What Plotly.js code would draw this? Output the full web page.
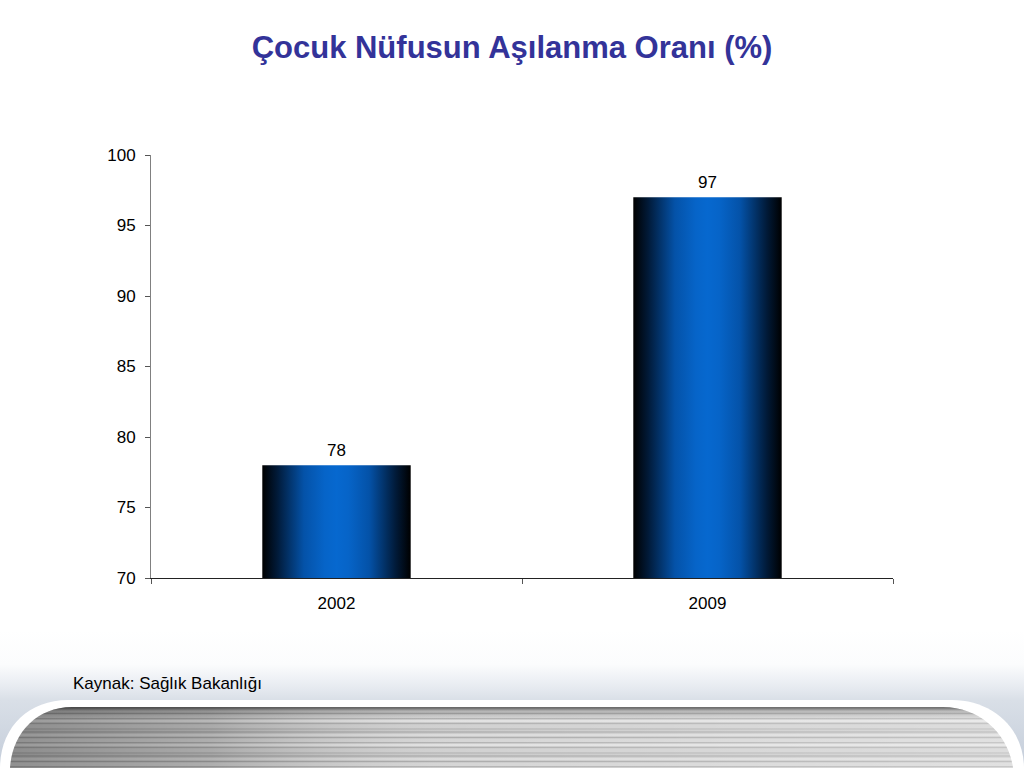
<!DOCTYPE html>
<html>
<head>
<meta charset="utf-8">
<script src="https://cdn.plot.ly/plotly-3.0.1.min.js"></script>
<style>
  html, body { margin:0; padding:0; background:#ffffff; }
  #wrap { position:relative; width:1024px; height:768px; overflow:hidden; }
  #deco { position:absolute; left:0; top:0; z-index:0; }
  #chart { position:absolute; left:0; top:0; width:1024px; height:768px; z-index:1; }
</style>
</head>
<body>
<div id="wrap">
<svg id="deco" width="1024" height="768" xmlns="http://www.w3.org/2000/svg">
  <defs>
    <linearGradient id="glow" x1="0" y1="0" x2="0" y2="1">
      <stop offset="0" stop-color="#ffffff"/>
      <stop offset="0.25" stop-color="#fbfcfd"/>
      <stop offset="0.42" stop-color="#e6eaf0"/>
      <stop offset="0.51" stop-color="#d9dfe7"/>
      <stop offset="1" stop-color="#c4cdda"/>
    </linearGradient>
    <pattern id="stripes" patternUnits="userSpaceOnUse" x="0" y="707" width="1024" height="24">
      <rect x="0" y="0" width="1024" height="24" fill="#c9c9c9"/>
      <rect x="0" y="0" width="1024" height="2" fill="#b4b4b4"/>
      <rect x="0" y="3" width="1024" height="2" fill="#dadada"/>
      <rect x="0" y="6" width="1024" height="1" fill="#a9a9a9"/>
      <rect x="0" y="8" width="1024" height="3" fill="#d4d4d4"/>
      <rect x="0" y="11" width="1024" height="1" fill="#b0b0b0"/>
      <rect x="0" y="13" width="1024" height="2" fill="#e0e0e0"/>
      <rect x="0" y="16" width="1024" height="1" fill="#adadad"/>
      <rect x="0" y="18" width="1024" height="3" fill="#cfcfcf"/>
      <rect x="0" y="21" width="1024" height="2" fill="#bcbcbc"/>
    </pattern>
    <linearGradient id="shade" x1="0" y1="0" x2="1" y2="0">
      <stop offset="0" stop-color="#000000" stop-opacity="0.32"/>
      <stop offset="0.2" stop-color="#000000" stop-opacity="0.18"/>
      <stop offset="0.45" stop-color="#ffffff" stop-opacity="0.05"/>
      <stop offset="0.75" stop-color="#ffffff" stop-opacity="0.2"/>
      <stop offset="1" stop-color="#ffffff" stop-opacity="0.3"/>
    </linearGradient>
    <linearGradient id="topedge" x1="0" y1="0" x2="0" y2="1">
      <stop offset="0" stop-color="#000000" stop-opacity="0.45"/>
      <stop offset="0.08" stop-color="#000000" stop-opacity="0.15"/>
      <stop offset="0.2" stop-color="#000000" stop-opacity="0"/>
      <stop offset="1" stop-color="#000000" stop-opacity="0"/>
    </linearGradient>
  </defs>
  <rect x="0" y="630" width="1024" height="138" fill="url(#glow)"/>
  <path d="M0,768 C0,728 28,700 68,700 L952,700 C992,700 1024,728 1024,768 Z" fill="#ffffff"/>
  <path d="M10,768 C12,734 36,707 72,707 L943,707 C980,707 1008,734 1013,768 Z" fill="url(#stripes)"/>
  <path d="M10,768 C12,734 36,707 72,707 L943,707 C980,707 1008,734 1013,768 Z" fill="url(#shade)"/>
  <path d="M10,768 C12,734 36,707 72,707 L943,707 C980,707 1008,734 1013,768 Z" fill="url(#topedge)"/>
</svg>
<div id="chart"></div>
</div>
<script>
const categories = ["2002", "2009"];
const values = [78, 97];
const valueLabels = ["78", "97"];
const yTicks = [70, 75, 80, 85, 90, 95, 100];
const titleText = "Çocuk Nüfusun Aşılanma Oranı (%)";
const sourceText = "Kaynak: Sağlık Bakanlığı";

const FONT = "Liberation Sans, Arial, sans-serif";

const trace = {
  type: "bar",
  x: categories,
  y: values,
  width: 0.4,
  marker: { color: "#0066cc", line: { width: 0 } },
  hoverinfo: "none"
};

const labelAnnotations = categories.map(function (c, i) {
  return {
    x: i, y: values[i], xref: "x", yref: "y",
    text: valueLabels[i], showarrow: false,
    xanchor: "center", yanchor: "bottom", yshift: 3,
    font: { family: FONT, size: 17, color: "#000000" }
  };
});

const layout = {
  width: 1024,
  height: 768,
  margin: { l: 151, r: 131, t: 155, b: 190 },
  paper_bgcolor: "rgba(0,0,0,0)",
  plot_bgcolor: "rgba(0,0,0,0)",
  showlegend: false,
  font: { family: FONT, size: 17, color: "#000000" },
  title: {
    text: titleText,
    x: 0.5, xanchor: "center",
    y: 1 - 47 / 768, yref: "container", yanchor: "middle",
    font: { family: FONT, size: 31, color: "#333399", weight: "bold" }
  },
  xaxis: {
    type: "category",
    categoryarray: categories,
    range: [-0.5, categories.length - 0.5],
    showline: true, linecolor: "#222222", linewidth: 1,
    ticks: "outside", tickson: "boundaries", ticklen: 5, tickcolor: "#555555",
    ticklabelstandoff: 10,
    tickangle: 0,
    showgrid: false, zeroline: false,
    tickfont: { size: 17, color: "#000000" }
  },
  yaxis: {
    range: [70, 100],
    tickvals: yTicks,
    ticktext: yTicks.map(String),
    showline: true, linecolor: "#808080", linewidth: 1,
    ticks: "outside", ticklen: 5, tickcolor: "#555555",
    ticklabelstandoff: 6,
    showgrid: false, zeroline: false,
    tickfont: { size: 17, color: "#000000" }
  },
  annotations: labelAnnotations.concat([{
    text: sourceText,
    xref: "paper", yref: "paper",
    x: (71 - 151) / 742, y: (578 - 683) / 423,
    xanchor: "left", yanchor: "middle",
    showarrow: false,
    font: { family: FONT, size: 17, color: "#000000" }
  }])
};

const gd = document.getElementById("chart");
Plotly.newPlot(gd, [trace], layout, { displayModeBar: false, staticPlot: true }).then(function () {
  const svg = gd.querySelector(".main-svg");
  const ns = "http://www.w3.org/2000/svg";
  const defs = document.createElementNS(ns, "defs");
  const grad = document.createElementNS(ns, "linearGradient");
  grad.setAttribute("id", "barGrad");
  grad.setAttribute("x1", "0"); grad.setAttribute("y1", "0");
  grad.setAttribute("x2", "1"); grad.setAttribute("y2", "0");
  const stops = [
    [0, "#000000"], [0.1, "#011a38"], [0.28, "#0452a8"], [0.42, "#0664c8"],
    [0.5, "#0668cf"], [0.58, "#0664c8"], [0.72, "#0452a8"], [0.9, "#011a38"], [1, "#000000"]
  ];
  stops.forEach(function (s) {
    const st = document.createElementNS(ns, "stop");
    st.setAttribute("offset", s[0]);
    st.setAttribute("stop-color", s[1]);
    grad.appendChild(st);
  });
  defs.appendChild(grad);
  svg.insertBefore(defs, svg.firstChild);
  gd.querySelectorAll(".barlayer .point path").forEach(function (p) {
    p.style.fill = "url(#barGrad)";
  });
});
</script>
</body>
</html>
